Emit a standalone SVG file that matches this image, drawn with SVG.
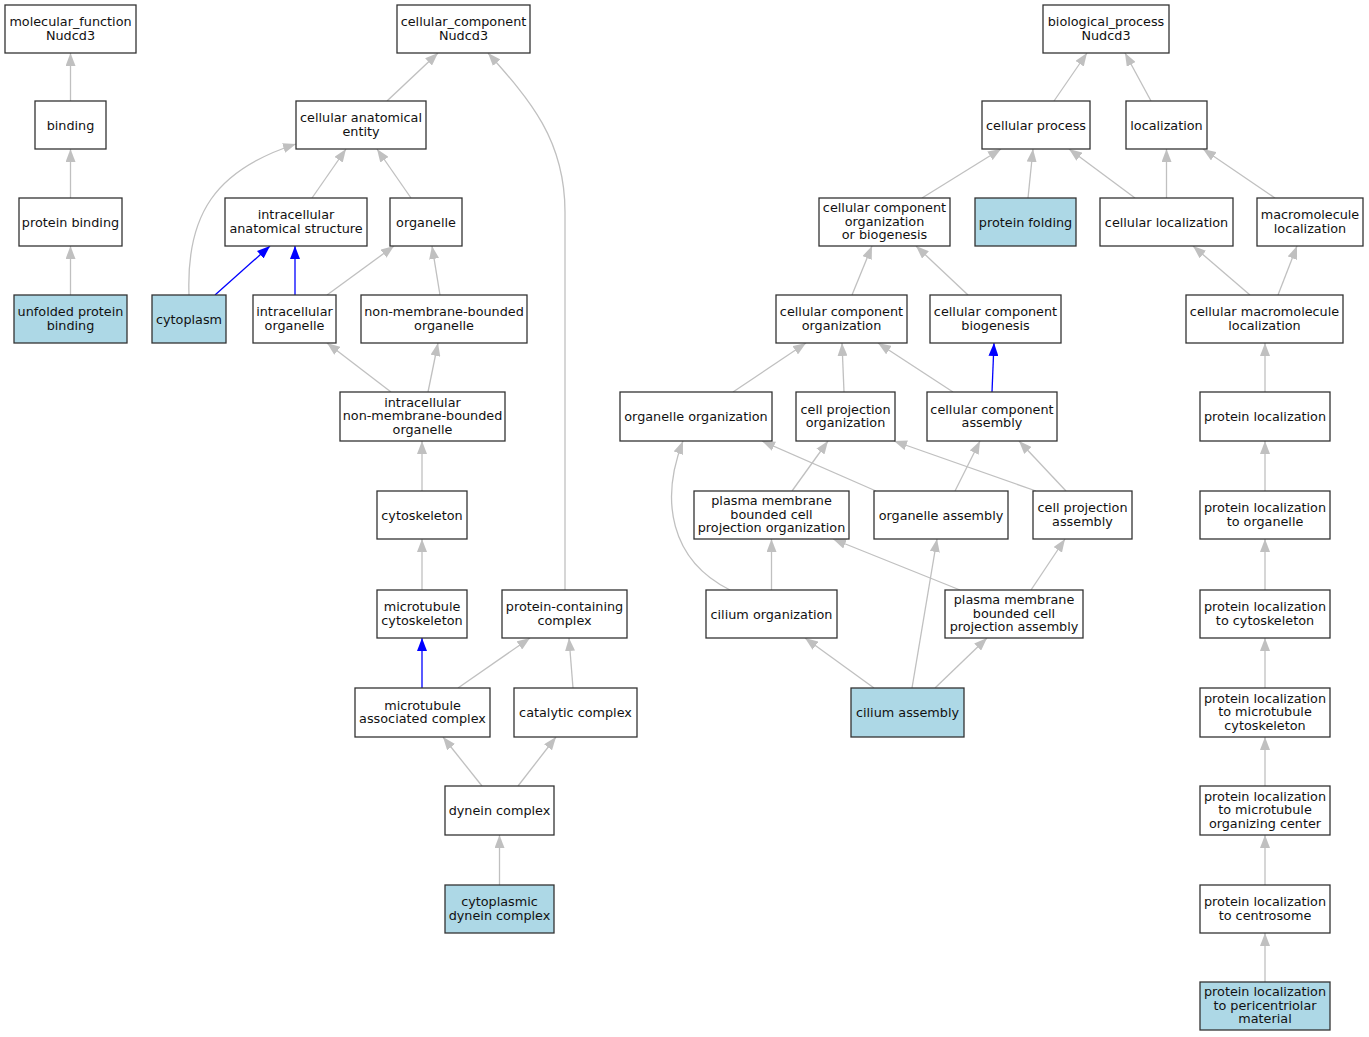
<svg xmlns="http://www.w3.org/2000/svg" width="1369" height="1037" viewBox="0 0 1369 1037">
<style>
.n rect{fill:#fff;stroke:#333;stroke-width:1.3}
.n.hl rect{fill:#add8e6}
.n text{font-family:"DejaVu Sans",sans-serif;font-size:12.8px;text-anchor:middle;fill:#111}
.e path{fill:none;stroke:#c0c0c0;stroke-width:1.3}
.e path.b{stroke:#0000ff}
</style>
<defs>
<marker id="ag" markerUnits="userSpaceOnUse" viewBox="0 0 13 10" markerWidth="13" markerHeight="10" refX="13" refY="5" orient="auto"><path d="M0,0 L13,5 L0,10 z" fill="#c0c0c0"/></marker>
<marker id="ab" markerUnits="userSpaceOnUse" viewBox="0 0 13 10" markerWidth="13" markerHeight="10" refX="13" refY="5" orient="auto"><path d="M0,0 L13,5 L0,10 z" fill="#0000ff"/></marker>
</defs>
<rect x="0" y="0" width="1369" height="1037" fill="#fff"/>
<g id="edges" class="e">
<path marker-end="url(#ag)" d="M70.5,101 L70.5,53"/>
<path marker-end="url(#ag)" d="M70.5,198 L70.5,149"/>
<path marker-end="url(#ag)" d="M70.5,295 L70.5,246"/>
<path marker-end="url(#ag)" d="M387,101 L438,53"/>
<path marker-end="url(#ag)" d="M565,590 L565,212 C565,140 530,100 488,53"/>
<path marker-end="url(#ag)" d="M312,198 L346,149"/>
<path marker-end="url(#ag)" d="M411,198 L377,149"/>
<path marker-end="url(#ag)" d="M189,295 C186,215 215,170 296,144"/>
<path class="b" marker-end="url(#ab)" d="M215,295 L270,246"/>
<path class="b" marker-end="url(#ab)" d="M295,295 L295,246"/>
<path marker-end="url(#ag)" d="M327,295 L394,246"/>
<path marker-end="url(#ag)" d="M440,295 L432,246"/>
<path marker-end="url(#ag)" d="M391,392 L327,343"/>
<path marker-end="url(#ag)" d="M428,392 L438,343"/>
<path marker-end="url(#ag)" d="M422,491 L422,441"/>
<path marker-end="url(#ag)" d="M422,590 L422,539"/>
<path class="b" marker-end="url(#ab)" d="M422,688 L422,638"/>
<path marker-end="url(#ag)" d="M458,688 L530,638"/>
<path marker-end="url(#ag)" d="M573,688 L569,638"/>
<path marker-end="url(#ag)" d="M482,786 L443,737"/>
<path marker-end="url(#ag)" d="M518,786 L556,737"/>
<path marker-end="url(#ag)" d="M499.5,885 L499.5,835"/>
<path marker-end="url(#ag)" d="M1054,101 L1087,53"/>
<path marker-end="url(#ag)" d="M1151,101 L1125,53"/>
<path marker-end="url(#ag)" d="M922,198 L1001,149"/>
<path marker-end="url(#ag)" d="M1028,198 L1033,149"/>
<path marker-end="url(#ag)" d="M1135,198 L1069,149"/>
<path marker-end="url(#ag)" d="M1166.5,198 L1166.5,149"/>
<path marker-end="url(#ag)" d="M1275,198 L1203,149"/>
<path marker-end="url(#ag)" d="M852,295 L872,246"/>
<path marker-end="url(#ag)" d="M968,295 L916,246"/>
<path marker-end="url(#ag)" d="M1250,295 L1193,246"/>
<path marker-end="url(#ag)" d="M1278,295 L1297,246"/>
<path marker-end="url(#ag)" d="M733,392 L806,343"/>
<path marker-end="url(#ag)" d="M844,392 L842,343"/>
<path marker-end="url(#ag)" d="M953,392 L878,343"/>
<path class="b" marker-end="url(#ab)" d="M992,392 L994,343"/>
<path marker-end="url(#ag)" d="M1265,392 L1265,343"/>
<path marker-end="url(#ag)" d="M792,491 L828,441"/>
<path marker-end="url(#ag)" d="M876,491 L762,441"/>
<path marker-end="url(#ag)" d="M955,491 L980,441"/>
<path marker-end="url(#ag)" d="M1036,491 L894,441"/>
<path marker-end="url(#ag)" d="M1066,491 L1019,441"/>
<path marker-end="url(#ag)" d="M1265,491 L1265,441"/>
<path marker-end="url(#ag)" d="M730,590 C670,560 660,500 683,441"/>
<path marker-end="url(#ag)" d="M771.5,590 L771.5,539"/>
<path marker-end="url(#ag)" d="M960,590 L833,539"/>
<path marker-end="url(#ag)" d="M1031,590 L1065,539"/>
<path marker-end="url(#ag)" d="M1265,590 L1265,539"/>
<path marker-end="url(#ag)" d="M874,688 L805,638"/>
<path marker-end="url(#ag)" d="M912,688 L937,539"/>
<path marker-end="url(#ag)" d="M935,688 L987,638"/>
<path marker-end="url(#ag)" d="M1265,688 L1265,638"/>
<path marker-end="url(#ag)" d="M1265,786 L1265,737"/>
<path marker-end="url(#ag)" d="M1265,885 L1265,835"/>
<path marker-end="url(#ag)" d="M1265,982 L1265,933"/>
</g>
<g id="n_mf" class="n"><rect x="5" y="5" width="131" height="48"/><text x="70.5" y="26">molecular_function<tspan x="70.5" y="39.5">Nudcd3</tspan></text></g>
<g id="n_binding" class="n"><rect x="35" y="101" width="71" height="48"/><text x="70.5" y="129.5">binding</text></g>
<g id="n_pb" class="n"><rect x="19" y="198" width="103" height="48"/><text x="70.5" y="226.5">protein binding</text></g>
<g id="n_upb" class="n hl"><rect x="14" y="295" width="113" height="48"/><text x="70.5" y="316">unfolded protein<tspan x="70.5" y="329.5">binding</tspan></text></g>
<g id="n_cc" class="n"><rect x="397" y="5" width="133" height="48"/><text x="463.5" y="26">cellular_component<tspan x="463.5" y="39.5">Nudcd3</tspan></text></g>
<g id="n_cae" class="n"><rect x="296" y="101" width="130" height="48"/><text x="361" y="122">cellular anatomical<tspan x="361" y="135.5">entity</tspan></text></g>
<g id="n_ias" class="n"><rect x="225" y="198" width="142" height="48"/><text x="296" y="219">intracellular<tspan x="296" y="232.5">anatomical structure</tspan></text></g>
<g id="n_org" class="n"><rect x="390" y="198" width="72" height="48"/><text x="426" y="226.5">organelle</text></g>
<g id="n_cyto" class="n hl"><rect x="152" y="295" width="74" height="48"/><text x="189" y="323.5">cytoplasm</text></g>
<g id="n_io" class="n"><rect x="253" y="295" width="83" height="48"/><text x="294.5" y="316">intracellular<tspan x="294.5" y="329.5">organelle</tspan></text></g>
<g id="n_nmbo" class="n"><rect x="361" y="295" width="166" height="48"/><text x="444" y="316">non-membrane-bounded<tspan x="444" y="329.5">organelle</tspan></text></g>
<g id="n_inmbo" class="n"><rect x="340" y="392" width="165" height="49"/><text x="422.5" y="406.5">intracellular<tspan x="422.5" y="420">non-membrane-bounded</tspan><tspan x="422.5" y="433.5">organelle</tspan></text></g>
<g id="n_cytosk" class="n"><rect x="377" y="491" width="90" height="48"/><text x="422" y="519.5">cytoskeleton</text></g>
<g id="n_mtc" class="n"><rect x="377" y="590" width="90" height="48"/><text x="422" y="611">microtubule<tspan x="422" y="624.5">cytoskeleton</tspan></text></g>
<g id="n_pcc" class="n"><rect x="502" y="590" width="125" height="48"/><text x="564.5" y="611">protein-containing<tspan x="564.5" y="624.5">complex</tspan></text></g>
<g id="n_mac" class="n"><rect x="355" y="688" width="135" height="49"/><text x="422.5" y="709.5">microtubule<tspan x="422.5" y="723">associated complex</tspan></text></g>
<g id="n_cat" class="n"><rect x="514" y="688" width="123" height="49"/><text x="575.5" y="717">catalytic complex</text></g>
<g id="n_dyn" class="n"><rect x="445" y="786" width="109" height="49"/><text x="499.5" y="815">dynein complex</text></g>
<g id="n_cdc" class="n hl"><rect x="445" y="885" width="109" height="48"/><text x="499.5" y="906">cytoplasmic<tspan x="499.5" y="919.5">dynein complex</tspan></text></g>
<g id="n_bp" class="n"><rect x="1043" y="5" width="126" height="48"/><text x="1106" y="26">biological_process<tspan x="1106" y="39.5">Nudcd3</tspan></text></g>
<g id="n_cp" class="n"><rect x="982" y="101" width="108" height="48"/><text x="1036" y="129.5">cellular process</text></g>
<g id="n_loc" class="n"><rect x="1126" y="101" width="81" height="48"/><text x="1166.5" y="129.5">localization</text></g>
<g id="n_ccoob" class="n"><rect x="819" y="198" width="131" height="48"/><text x="884.5" y="212">cellular component<tspan x="884.5" y="225.5">organization</tspan><tspan x="884.5" y="239">or biogenesis</tspan></text></g>
<g id="n_pf" class="n hl"><rect x="975" y="198" width="101" height="48"/><text x="1025.5" y="226.5">protein folding</text></g>
<g id="n_cl" class="n"><rect x="1100" y="198" width="133" height="48"/><text x="1166.5" y="226.5">cellular localization</text></g>
<g id="n_ml" class="n"><rect x="1257" y="198" width="106" height="48"/><text x="1310" y="219">macromolecule<tspan x="1310" y="232.5">localization</tspan></text></g>
<g id="n_cco" class="n"><rect x="776" y="295" width="131" height="48"/><text x="841.5" y="316">cellular component<tspan x="841.5" y="329.5">organization</tspan></text></g>
<g id="n_ccb" class="n"><rect x="930" y="295" width="131" height="48"/><text x="995.5" y="316">cellular component<tspan x="995.5" y="329.5">biogenesis</tspan></text></g>
<g id="n_cml" class="n"><rect x="1186" y="295" width="157" height="48"/><text x="1264.5" y="316">cellular macromolecule<tspan x="1264.5" y="329.5">localization</tspan></text></g>
<g id="n_oo" class="n"><rect x="620" y="392" width="152" height="49"/><text x="696" y="421">organelle organization</text></g>
<g id="n_cpo" class="n"><rect x="796" y="392" width="99" height="49"/><text x="845.5" y="413.5">cell projection<tspan x="845.5" y="427">organization</tspan></text></g>
<g id="n_cca" class="n"><rect x="927" y="392" width="130" height="49"/><text x="992" y="413.5">cellular component<tspan x="992" y="427">assembly</tspan></text></g>
<g id="n_pl" class="n"><rect x="1200" y="392" width="130" height="49"/><text x="1265" y="421">protein localization</text></g>
<g id="n_pmbcpo" class="n"><rect x="694" y="491" width="155" height="48"/><text x="771.5" y="505">plasma membrane<tspan x="771.5" y="518.5">bounded cell</tspan><tspan x="771.5" y="532">projection organization</tspan></text></g>
<g id="n_oa" class="n"><rect x="874" y="491" width="134" height="48"/><text x="941" y="519.5">organelle assembly</text></g>
<g id="n_cpa" class="n"><rect x="1033" y="491" width="99" height="48"/><text x="1082.5" y="512">cell projection<tspan x="1082.5" y="525.5">assembly</tspan></text></g>
<g id="n_plo" class="n"><rect x="1200" y="491" width="130" height="48"/><text x="1265" y="512">protein localization<tspan x="1265" y="525.5">to organelle</tspan></text></g>
<g id="n_co" class="n"><rect x="706" y="590" width="131" height="48"/><text x="771.5" y="618.5">cilium organization</text></g>
<g id="n_pmbcpa" class="n"><rect x="945" y="590" width="138" height="48"/><text x="1014" y="604">plasma membrane<tspan x="1014" y="617.5">bounded cell</tspan><tspan x="1014" y="631">projection assembly</tspan></text></g>
<g id="n_plc" class="n"><rect x="1200" y="590" width="130" height="48"/><text x="1265" y="611">protein localization<tspan x="1265" y="624.5">to cytoskeleton</tspan></text></g>
<g id="n_ca" class="n hl"><rect x="851" y="688" width="113" height="49"/><text x="907.5" y="717">cilium assembly</text></g>
<g id="n_plmc" class="n"><rect x="1200" y="688" width="130" height="49"/><text x="1265" y="702.5">protein localization<tspan x="1265" y="716">to microtubule</tspan><tspan x="1265" y="729.5">cytoskeleton</tspan></text></g>
<g id="n_plmoc" class="n"><rect x="1200" y="786" width="130" height="49"/><text x="1265" y="800.5">protein localization<tspan x="1265" y="814">to microtubule</tspan><tspan x="1265" y="827.5">organizing center</tspan></text></g>
<g id="n_plcen" class="n"><rect x="1200" y="885" width="130" height="48"/><text x="1265" y="906">protein localization<tspan x="1265" y="919.5">to centrosome</tspan></text></g>
<g id="n_plpcm" class="n hl"><rect x="1200" y="982" width="130" height="48"/><text x="1265" y="996">protein localization<tspan x="1265" y="1009.5">to pericentriolar</tspan><tspan x="1265" y="1023">material</tspan></text></g>
</svg>
